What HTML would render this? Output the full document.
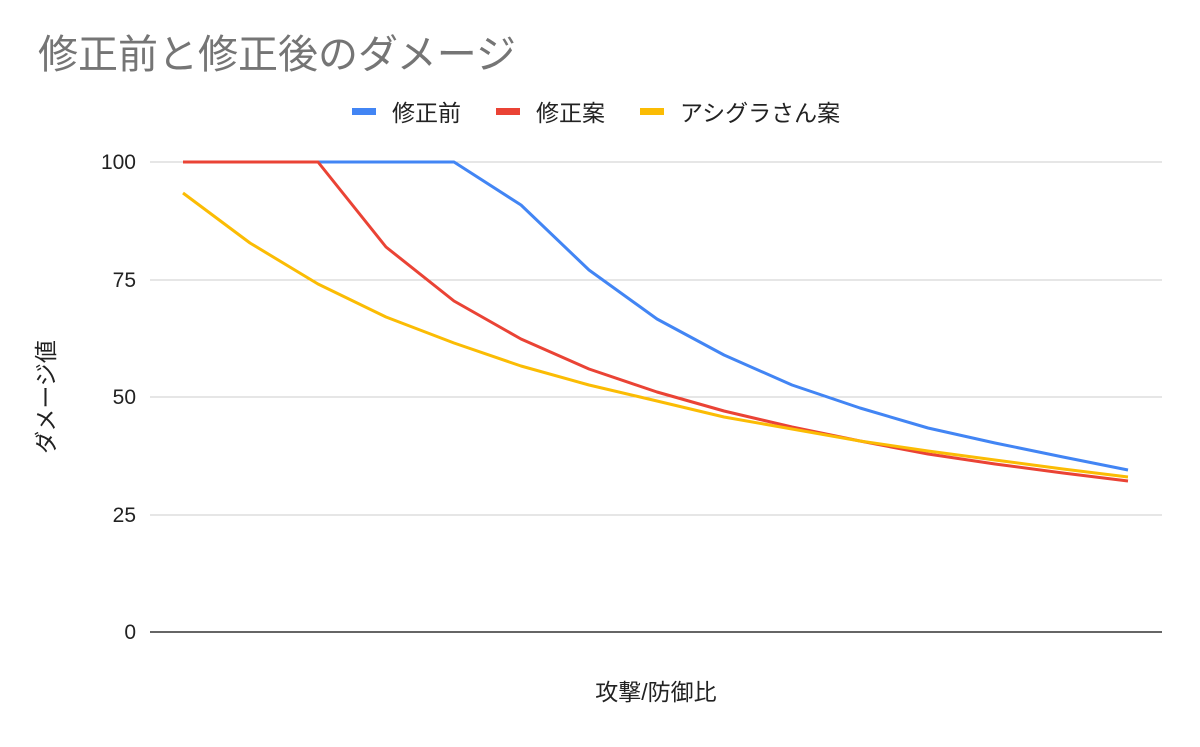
<!DOCTYPE html>
<html><head><meta charset="utf-8"><style>
body{margin:0;background:#fff;}
text{font-family:"Liberation Sans","Noto Sans CJK JP",sans-serif;}
</style></head><body>
<svg width="1200" height="742" xmlns="http://www.w3.org/2000/svg">
<rect width="1200" height="742" fill="#fff"/>
<text x="38" y="68" font-size="40" fill="#757575">修正前と修正後のダメージ</text>
<rect x="352" y="108" width="24" height="7" fill="#4285f4"/>
<text x="392" y="121" font-size="23" fill="#222">修正前</text>
<rect x="496" y="108" width="24" height="7" fill="#ea4335"/>
<text x="536" y="121" font-size="23" fill="#222">修正案</text>
<rect x="640" y="108" width="24" height="7" fill="#fbbc04"/>
<text x="680" y="121" font-size="23" fill="#222">アシグラさん案</text>
<g stroke="#ccc" stroke-width="1">
<line x1="150" y1="162" x2="1162" y2="162"/>
<line x1="150" y1="280" x2="1162" y2="280"/>
<line x1="150" y1="397" x2="1162" y2="397"/>
<line x1="150" y1="515" x2="1162" y2="515"/>
</g>
<line x1="150" y1="632" x2="1162" y2="632" stroke="#333" stroke-width="1.5"/>
<g font-size="21" fill="#222" text-anchor="end">
<text x="136" y="169">100</text><text x="136" y="287">75</text><text x="136" y="404">50</text><text x="136" y="522">25</text><text x="136" y="639">0</text>
</g>
<text transform="translate(54,397) rotate(-90)" font-size="23" fill="#222" text-anchor="middle">ダメージ値</text>
<text x="656" y="700" font-size="23" fill="#222" text-anchor="middle">攻撃/防御比</text>
<g fill="none" stroke-width="3" stroke-linejoin="round">
<polyline stroke="#4285f4" points="183,162 250,162 318,162 386,162 454,162 521,205 589,270 657,319 724,355 792,385 860,408 928,428 995,443 1063,457 1128,470"/>
<polyline stroke="#ea4335" points="183,162 250,162 318,162 386,247 454,301 521,339 589,369 657,392 724,411 792,427 860,441 928,454 995,464 1063,473 1128,481"/>
<polyline stroke="#fbbc04" points="183,193 250,243 318,284 386,317 454,343 521,366 589,385 657,401 724,417 792,429 860,441 928,451 995,460 1063,469 1128,477"/>
</g>
</svg>
</body></html>
